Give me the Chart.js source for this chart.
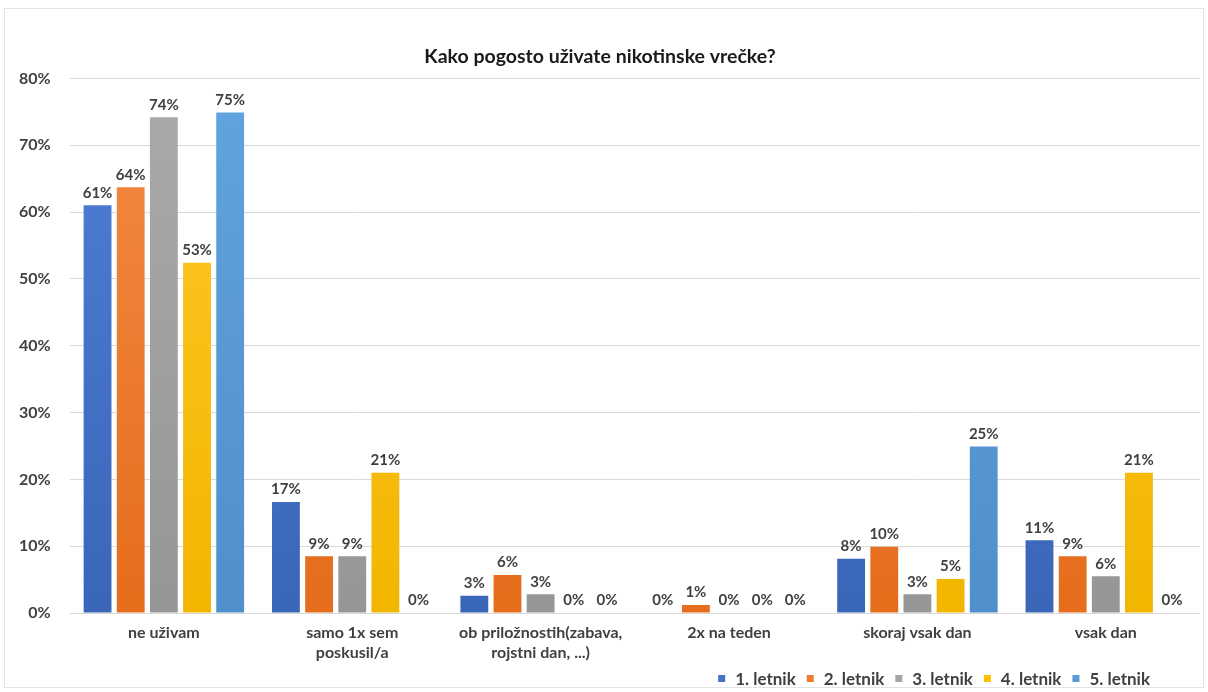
<!DOCTYPE html>
<html>
<head>
<meta charset="utf-8">
<script src="https://cdn.jsdelivr.net/npm/chart.js@4.4.0/dist/chart.umd.min.js"></script>
<style>
  html, body { margin: 0; padding: 0; background: #fff; }
  #wrap { width: 1208px; height: 692px; }
</style>
</head>
<body>
<div id="wrap"><canvas id="myChart"></canvas></div>
<script>
const categories = [
    'ne uživam',
    ['samo 1x sem', 'poskusil/a'],
    ['ob priložnostih(zabava,', 'rojstni dan, ...)'],
    '2x na teden',
    'skoraj vsak dan',
    'vsak dan'
];
const letnik1 = [61, 17, 3, 0, 8, 11];
const letnik2 = [64, 9, 6, 1, 10, 9];
const letnik3 = [74, 9, 3, 0, 3, 6];
const letnik4 = [53, 21, 0, 0, 5, 21];
const letnik5 = [75, 0, 0, 0, 25, 0];
// bar heights, labels show rounded values
const heights1 = [61, 16.6, 2.6, 0, 8.1, 10.9];
const heights2 = [63.7, 8.5, 5.7, 1.2, 9.9, 8.5];
const heights3 = [74.2, 8.5, 2.8, 0, 2.8, 5.5];
const heights4 = [52.4, 21, 0, 0, 5.1, 21];
const heights5 = [74.9, 0, 0, 0, 24.9, 0];
const yTicks = [0, 10, 20, 30, 40, 50, 60, 70, 80];

const FONT = 'Lato, "Open Sans", sans-serif';
const ctx = document.getElementById('myChart');

function grad(top, bottom) {
    return (c) => {
        const area = c.chart.chartArea;
        if (!area) return bottom;
        const g = c.chart.ctx.createLinearGradient(0, area.bottom, 0, area.top);
        g.addColorStop(0, bottom);
        g.addColorStop(1, top);
        return g;
    };
}

const series = [
    { label: '1. letnik', data: heights1, shown: letnik1, color: '#4472C4', top: '#4f7fd6', bottom: '#3a66b8' },
    { label: '2. letnik', data: heights2, shown: letnik2, color: '#ED7D31', top: '#f38b45', bottom: '#e56d1c' },
    { label: '3. letnik', data: heights3, shown: letnik3, color: '#A5A5A5', top: '#aaaaaa', bottom: '#969696' },
    { label: '4. letnik', data: heights4, shown: letnik4, color: '#FFC000', top: '#ffc82a', bottom: '#f2b600' },
    { label: '5. letnik', data: heights5, shown: letnik5, color: '#5B9BD5', top: '#62a4e0', bottom: '#4f8fcb' },
];

const barLabels = {
    id: 'barLabels',
    afterDatasetsDraw(chart) {
        const c = chart.ctx;
        c.save();
        c.font = 'bold 15px ' + FONT;
        c.fillStyle = '#404040';
        c.textAlign = 'center';
        c.textBaseline = 'bottom';
        chart.data.datasets.forEach((ds, i) => {
            chart.getDatasetMeta(i).data.forEach((bar, j) => {
                c.fillText(ds.shown[j] + '%', bar.x, bar.y - 5);
            });
        });
        c.restore();
    }
};

// legend drawn by hand so it can sit where the original has it
const legendBox = {
    id: 'legendBox',
    afterDraw(chart) {
        const c = chart.ctx;
        c.save();
        c.font = 'bold 17px ' + FONT;
        c.textBaseline = 'middle';
        const y = 679, gap = 11, box = 7, tgap = 10;
        const widths = series.map(s => box + tgap + c.measureText(s.label).width);
        let x = 1150 - widths.reduce((a, b) => a + b, 0) - gap * (series.length - 1);
        series.forEach((s, i) => {
            c.fillStyle = s.color;
            c.fillRect(x, y - 4, box, box);
            c.fillStyle = '#404040';
            c.fillText(s.label, x + box + tgap, y + 1);
            x += widths[i] + gap;
        });
        c.restore();
    }
};

const frame = {
    id: 'frame',
    beforeDraw(chart) {
        const c = chart.ctx;
        c.save();
        c.fillStyle = '#fff';
        c.fillRect(0, 0, chart.width, chart.height);
        c.strokeStyle = '#e3e3e3';
        c.lineWidth = 1;
        c.strokeRect(4.5, 8.5, chart.width - 9, chart.height - 13);
        c.restore();
    }
};

const chartConfig = {
    type: 'bar',
    data: {
        labels: categories,
        datasets: series.map(s => ({
            label: s.label,
            data: s.data,
            shown: s.shown,
            backgroundColor: grad(s.top, s.bottom),
            borderWidth: 0,
            categoryPercentage: 0.88,
            barPercentage: 0.84,
        })),
    },
    options: {
        responsive: true,
        maintainAspectRatio: false,
        animation: false,
        layout: { padding: { left: 0, right: 8, top: 10, bottom: 27 } },
        plugins: {
            title: {
                display: true,
                text: 'Kako pogosto uživate nikotinske vrečke?',
                color: '#1a1a1a',
                font: { family: FONT, size: 19.5, weight: 'bold' },
                padding: { top: 35, bottom: 10 },
            },
            legend: { display: false },
            tooltip: { enabled: false },
        },
        scales: {
            x: {
                grid: { display: false },
                border: { display: false },
                ticks: {
                    autoSkip: false,
                    maxRotation: 0,
                    padding: 2,
                    color: '#404040',
                    font: { family: FONT, size: 16, weight: 'bold', lineHeight: 1.25 },
                },
            },
            y: {
                min: 0,
                max: 80,
                afterBuildTicks(axis) {
                    axis.ticks = yTicks.map(v => ({ value: v }));
                },
                grid: { color: '#d9d9d9', drawTicks: false },
                border: { display: false },
                ticks: {
                    padding: 19,
                    color: '#404040',
                    font: { family: FONT, size: 16, weight: 'bold' },
                    callback: v => v + '%',
                },
            },
        },
    },
    plugins: [frame, barLabels, legendBox],
};
chart = new Chart(ctx, chartConfig);
</script>
</body>
</html>
